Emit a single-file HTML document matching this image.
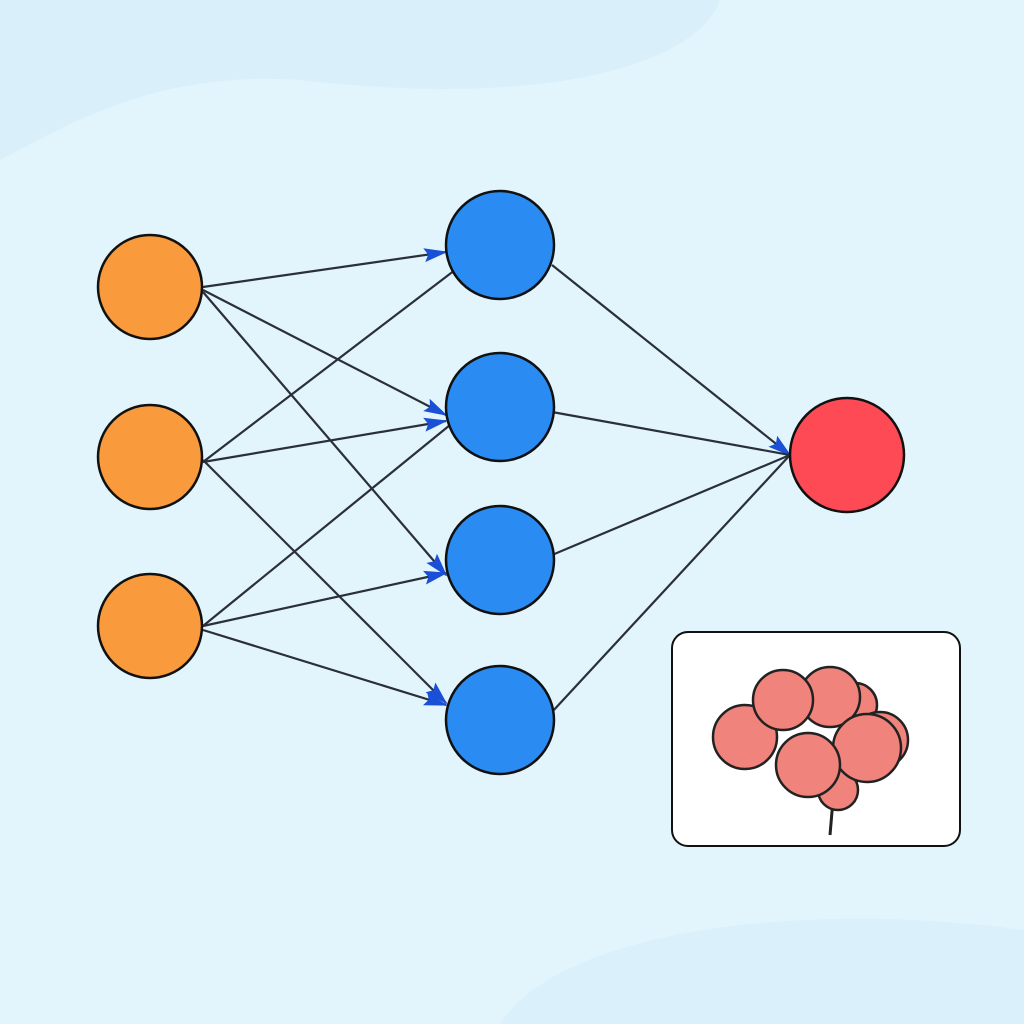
<!DOCTYPE html>
<html><head><style>
html,body{margin:0;padding:0;background:#e2f5fc;}
svg{display:block;}
</style></head><body>
<svg width="1024" height="1024" viewBox="0 0 1024 1024" xmlns="http://www.w3.org/2000/svg">
<defs>
<marker id="a" markerWidth="24" markerHeight="16" refX="22" refY="8" orient="auto" markerUnits="userSpaceOnUse" viewBox="0 0 24 16">
<path d="M0,1 L24,8 L0,15 L4,8 Z" fill="#1a4fd8"/>
</marker>
</defs>
<rect width="1024" height="1024" fill="#e2f5fc"/>
<path d="M0,0 H720 C700,60 560,110 300,80 C150,70 60,130 0,160 Z" fill="#d9f0fa"/>
<path d="M500,1024 C560,930 800,900 1024,930 V1024 Z" fill="#daf0fa"/>
<g stroke="#2a2f3a" stroke-width="2.2" fill="none">
<line x1="203" y1="287" x2="446" y2="252" marker-end="url(#a)"/>
<line x1="203" y1="290" x2="446" y2="415" marker-end="url(#a)"/>
<line x1="203" y1="292" x2="446" y2="575" marker-end="url(#a)"/>
<line x1="203" y1="462" x2="455" y2="270"/>
<line x1="203" y1="462" x2="446" y2="421" marker-end="url(#a)"/>
<line x1="203" y1="460" x2="446" y2="703" marker-end="url(#a)"/>
<line x1="203" y1="626" x2="450" y2="425"/>
<line x1="203" y1="626" x2="446" y2="573" marker-end="url(#a)"/>
<line x1="203" y1="630" x2="446" y2="705" marker-end="url(#a)"/>
<line x1="552" y1="265" x2="790" y2="455" marker-end="url(#a)"/>
<line x1="552" y1="412" x2="790" y2="455"/>
<line x1="552" y1="555" x2="790" y2="455"/>
<line x1="552" y1="712" x2="790" y2="455"/>
</g>
<g stroke="#111" stroke-width="2.5">
<circle cx="150" cy="287" r="52" fill="#f99a3c"/>
<circle cx="150" cy="457" r="52" fill="#f99a3c"/>
<circle cx="150" cy="626" r="52" fill="#f99a3c"/>
<circle cx="500" cy="245" r="54" fill="#2a8cf3"/>
<circle cx="500" cy="407" r="54" fill="#2a8cf3"/>
<circle cx="500" cy="560" r="54" fill="#2a8cf3"/>
<circle cx="500" cy="720" r="54" fill="#2a8cf3"/>
<circle cx="847" cy="455" r="57" fill="#fd4a55"/>
</g>
<rect x="672" y="632" width="288" height="214" rx="16" fill="#fff" stroke="#111" stroke-width="2"/>
<g stroke="#222" stroke-width="2.5" fill="#f0837b">
<path d="M833,800 L830,835" fill="none" stroke-width="3"/>
<circle cx="855" cy="705" r="22"/>
<circle cx="880" cy="740" r="28"/>
<circle cx="838" cy="790" r="20"/>
<circle cx="745" cy="737" r="32"/>
<circle cx="830" cy="697" r="30"/>
<circle cx="783" cy="700" r="30"/>
<circle cx="867" cy="748" r="34"/>
<circle cx="808" cy="765" r="32"/>
</g>
</svg>
</body></html>
